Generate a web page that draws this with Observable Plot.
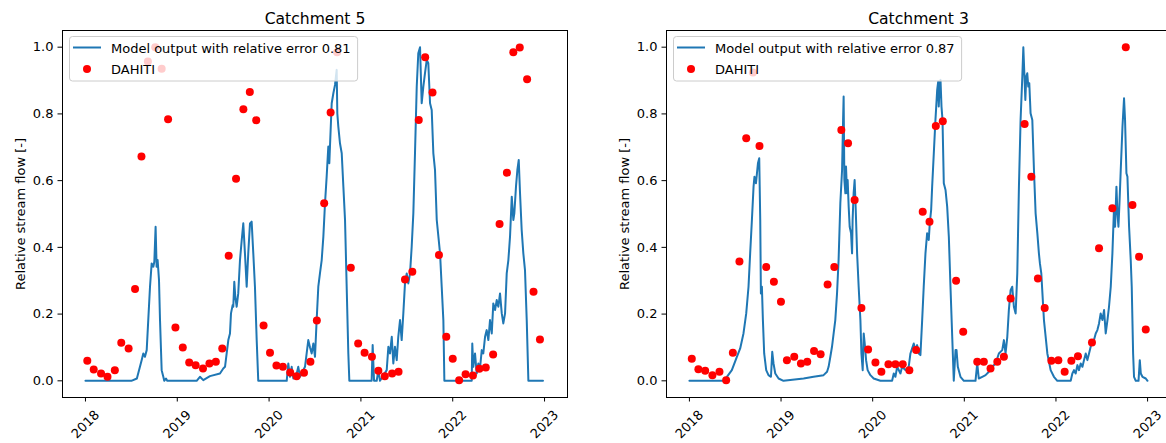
<!DOCTYPE html>
<html>
<head>
<meta charset="utf-8">
<script src="https://cdn.jsdelivr.net/npm/d3@7"></script>
<script src="https://cdn.jsdelivr.net/npm/@observablehq/plot@0.6"></script>
<style>
  html, body { margin: 0; padding: 0; background: white; overflow: hidden; }
  #wrap { display: flex; width: 1166px; height: 443px; overflow: hidden; }
  #wrap > div { flex: none; }
  svg { max-width: none !important; }
</style>
</head>
<body>
<div id="wrap"><div id="p1"></div><div id="p2"></div></div>
<script>
// ---- data (decimal year, relative stream flow) ----
const xTickYears = [2018, 2019, 2020, 2021, 2022, 2023];
const yTickValues = [0, 0.2, 0.4, 0.6, 0.8, 1.0];
const yLabel = "Relative stream flow [-]";
const seriesLabel = "Model output with relative error";
const obsLabel = "DAHITI";

const catchment5Title = "Catchment 5";
const catchment5Error = "0.81";
const catchment5Dahiti = [
  [2018.02,0.060],[2018.09,0.034],[2018.17,0.022],[2018.24,0.012],[2018.32,0.032],[2018.39,0.114],
  [2018.47,0.097],[2018.54,0.275],[2018.61,0.672],[2018.68,0.957],[2018.76,1.000],[2018.83,0.935],
  [2018.90,0.784],[2018.98,0.160],[2019.06,0.100],[2019.13,0.055],[2019.20,0.047],[2019.28,0.037],
  [2019.35,0.052],[2019.42,0.057],[2019.49,0.097],[2019.56,0.375],[2019.64,0.606],[2019.72,0.814],
  [2019.79,0.866],[2019.86,0.781],[2019.94,0.166],[2020.01,0.084],[2020.08,0.046],[2020.15,0.042],
  [2020.23,0.025],[2020.30,0.014],[2020.38,0.024],[2020.45,0.057],[2020.52,0.181],[2020.60,0.532],
  [2020.67,0.804],[2020.74,0.985],[2020.89,0.339],[2020.97,0.112],[2021.04,0.084],[2021.12,0.072],
  [2021.19,0.030],[2021.26,0.014],[2021.34,0.022],[2021.41,0.027],[2021.48,0.304],[2021.56,0.327],
  [2021.63,0.782],[2021.70,0.970],[2021.78,0.864],[2021.85,0.377],[2021.93,0.132],[2022.00,0.066],
  [2022.07,0.002],[2022.14,0.020],[2022.22,0.016],[2022.29,0.036],[2022.36,0.040],[2022.44,0.079],
  [2022.51,0.470],[2022.59,0.624],[2022.66,0.985],[2022.73,0.999],[2022.81,0.904],[2022.88,0.267],
  [2022.95,0.124]
];
const catchment5Model = [
  [2018.00,0],[2018.50,0],[2018.56,0.007],[2018.612,0.062],[2018.630,0.082],[2018.648,0.072],[2018.667,0.092],
  [2018.684,0.182],[2018.703,0.282],[2018.721,0.352],[2018.739,0.342],[2018.750,0.357],[2018.764,0.462],
  [2018.775,0.342],[2018.786,0.362],[2018.801,0.302],[2018.812,0.182],[2018.830,0.032],[2018.848,0.012],
  [2018.858,0],[2018.877,0.007],[2018.891,0],[2019.211,0],[2019.247,0.012],[2019.283,0.002],[2019.356,0.014],
  [2019.465,0.022],[2019.501,0.037],[2019.520,0.042],[2019.538,0.082],[2019.556,0.122],[2019.574,0.142],
  [2019.585,0.202],[2019.603,0.227],[2019.610,0.222],[2019.621,0.297],[2019.632,0.252],[2019.647,0.222],
  [2019.664,0.262],[2019.683,0.362],[2019.702,0.422],[2019.719,0.472],[2019.737,0.382],[2019.756,0.282],
  [2019.773,0.382],[2019.792,0.472],[2019.810,0.477],[2019.828,0.382],[2019.846,0.282],[2019.865,0.122],
  [2019.882,0],[2020.192,0],[2020.209,0.052],[2020.228,0.012],[2020.246,0.042],[2020.264,0.007],
  [2020.301,0.022],[2020.318,0.042],[2020.337,0.012],[2020.391,0.042],[2020.427,0.122],[2020.446,0.100],
  [2020.464,0.082],[2020.482,0.112],[2020.500,0.072],[2020.518,0.182],[2020.536,0.282],[2020.554,0.322],
  [2020.573,0.362],[2020.591,0.432],[2020.609,0.532],[2020.627,0.612],[2020.645,0.702],[2020.656,0.652],
  [2020.663,0.702],[2020.682,0.832],[2020.700,0.862],[2020.718,0.887],[2020.736,0.932],[2020.743,0.802],
  [2020.754,0.762],[2020.772,0.712],[2020.791,0.682],[2020.809,0.582],[2020.827,0.482],[2020.845,0.282],
  [2020.863,0.082],[2020.874,0],[2021.117,0],[2021.128,0.107],[2021.143,0],[2021.172,0],[2021.190,0.032],
  [2021.208,0],[2021.281,0.032],[2021.299,0.102],[2021.317,0.082],[2021.336,0.132],[2021.353,0.052],
  [2021.371,0.102],[2021.390,0.062],[2021.407,0.132],[2021.426,0.182],[2021.444,0.122],[2021.462,0.202],
  [2021.480,0.292],[2021.499,0.322],[2021.516,0.292],[2021.535,0.322],[2021.553,0.402],[2021.571,0.502],
  [2021.589,0.682],[2021.608,0.882],[2021.625,0.982],[2021.644,1.000],[2021.662,0.832],[2021.680,0.882],
  [2021.698,0.922],[2021.717,0.962],[2021.734,0.952],[2021.753,0.832],[2021.771,0.812],[2021.789,0.682],
  [2021.807,0.632],[2021.826,0.482],[2021.862,0.382],[2021.880,0.282],[2021.898,0.182],[2021.909,0],
  [2022.207,0],[2022.213,0.112],[2022.224,0.042],[2022.243,0.082],[2022.261,0.022],[2022.279,0.052],
  [2022.297,0.037],[2022.316,0.092],[2022.333,0.082],[2022.352,0.132],[2022.370,0.152],[2022.388,0.122],
  [2022.406,0.182],[2022.425,0.142],[2022.442,0.232],[2022.461,0.212],[2022.479,0.242],[2022.497,0.222],
  [2022.515,0.262],[2022.534,0.202],[2022.551,0.172],[2022.570,0.202],[2022.588,0.322],[2022.606,0.362],
  [2022.624,0.432],[2022.643,0.552],[2022.660,0.482],[2022.671,0.502],[2022.689,0.582],[2022.704,0.632],
  [2022.719,0.662],[2022.733,0.562],[2022.751,0.452],[2022.769,0.382],[2022.787,0.332],[2022.806,0.182],
  [2022.824,0],[2022.983,0]
];

const catchment3Title = "Catchment 3";
const catchment3Error = "0.87";
const catchment3Dahiti = [
  [2018.026,0.066],[2018.098,0.035],[2018.172,0.030],[2018.251,0.017],[2018.328,0.027],[2018.401,0.002],
  [2018.474,0.084],[2018.546,0.358],[2018.620,0.727],[2018.693,0.924],[2018.765,0.704],[2018.838,0.341],
  [2018.922,0.297],[2018.999,0.237],[2019.064,0.062],[2019.144,0.072],[2019.217,0.052],[2019.286,0.057],
  [2019.360,0.089],[2019.432,0.080],[2019.508,0.289],[2019.581,0.341],[2019.658,0.752],[2019.731,0.712],
  [2019.803,0.542],[2019.877,0.218],[2019.950,0.094],[2020.030,0.055],[2020.095,0.027],[2020.172,0.050],
  [2020.248,0.050],[2020.328,0.050],[2020.400,0.032],[2020.474,0.092],[2020.546,0.507],[2020.620,0.477],
  [2020.689,0.764],[2020.765,0.778],[2020.910,0.300],[2020.988,0.147],[2021.141,0.057],[2021.213,0.057],
  [2021.286,0.037],[2021.360,0.057],[2021.432,0.072],[2021.505,0.247],[2021.658,0.770],[2021.731,0.612],
  [2021.803,0.307],[2021.877,0.218],[2021.950,0.060],[2022.026,0.062],[2022.095,0.027],[2022.168,0.060],
  [2022.240,0.074],[2022.393,0.115],[2022.470,0.397],[2022.616,0.517],[2022.762,1.000],[2022.835,0.527],
  [2022.907,0.372],[2022.980,0.154]
];
const catchment3Model = [
  [2018.0,0],[2018.372,0],[2018.409,0.012],[2018.463,0.032],[2018.518,0.072],[2018.554,0.097],[2018.590,0.142],
  [2018.620,0.202],[2018.645,0.282],[2018.663,0.382],[2018.682,0.482],[2018.700,0.582],[2018.710,0.612],
  [2018.726,0.592],[2018.737,0.622],[2018.748,0.652],[2018.762,0.667],[2018.773,0.482],[2018.780,0.262],
  [2018.791,0.282],[2018.802,0.182],[2018.816,0.082],[2018.838,0.032],[2018.863,0.017],[2018.890,0.012],
  [2018.904,0.087],[2018.918,0.052],[2018.937,0.022],[2018.973,0.007],[2019.027,0],[2019.246,0.007],
  [2019.355,0.012],[2019.464,0.017],[2019.502,0.027],[2019.519,0.042],[2019.538,0.072],[2019.556,0.102],
  [2019.574,0.142],[2019.592,0.182],[2019.611,0.262],[2019.628,0.362],[2019.647,0.532],[2019.666,0.632],
  [2019.677,0.782],[2019.683,0.852],[2019.691,0.602],[2019.702,0.562],[2019.709,0.642],[2019.720,0.562],
  [2019.727,0.602],[2019.738,0.522],[2019.749,0.462],[2019.764,0.442],[2019.775,0.382],[2019.781,0.482],
  [2019.792,0.562],[2019.803,0.602],[2019.814,0.522],[2019.830,0.382],[2019.847,0.282],[2019.866,0.182],
  [2019.877,0.082],[2019.891,0.032],[2019.902,0.142],[2019.913,0.112],[2019.928,0.062],[2019.945,0.032],
  [2019.975,0.017],[2020.011,0.007],[2020.084,0],[2020.212,0],[2020.230,0.022],[2020.248,0.012],
  [2020.267,0.042],[2020.303,0.022],[2020.321,0.042],[2020.357,0.032],[2020.393,0.042],[2020.412,0.082],
  [2020.448,0.112],[2020.467,0.092],[2020.485,0.107],[2020.503,0.082],[2020.521,0.077],[2020.540,0.182],
  [2020.557,0.282],[2020.576,0.382],[2020.594,0.442],[2020.612,0.422],[2020.623,0.472],[2020.638,0.512],
  [2020.649,0.582],[2020.667,0.682],[2020.685,0.782],[2020.704,0.872],[2020.715,0.897],[2020.721,0.822],
  [2020.732,0.892],[2020.740,0.902],[2020.751,0.822],[2020.762,0.782],[2020.776,0.592],[2020.795,0.572],
  [2020.813,0.522],[2020.831,0.432],[2020.849,0.282],[2020.868,0.132],[2020.885,0],[2020.904,0.092],
  [2020.915,0.092],[2020.929,0.042],[2020.958,0.012],[2020.995,0],[2021.122,0],[2021.141,0.052],
  [2021.158,0.007],[2021.196,0.012],[2021.232,0.017],[2021.268,0.027],[2021.305,0.042],[2021.341,0.052],
  [2021.377,0.082],[2021.414,0.092],[2021.432,0.122],[2021.450,0.082],[2021.469,0.132],[2021.486,0.212],
  [2021.505,0.272],[2021.523,0.282],[2021.541,0.222],[2021.560,0.202],[2021.578,0.322],[2021.596,0.582],
  [2021.614,0.782],[2021.633,0.912],[2021.644,1.000],[2021.655,0.922],[2021.666,0.842],[2021.676,0.912],
  [2021.687,0.922],[2021.698,0.882],[2021.709,0.892],[2021.723,0.802],[2021.742,0.782],[2021.760,0.632],
  [2021.778,0.502],[2021.797,0.442],[2021.814,0.382],[2021.825,0.352],[2021.840,0.322],[2021.869,0.182],
  [2021.906,0.082],[2021.942,0.032],[2021.978,0.012],[2022.015,0],[2022.161,0],[2022.179,0.022],
  [2022.197,0.032],[2022.215,0.022],[2022.234,0.047],[2022.251,0.032],[2022.270,0.052],[2022.289,0.042],
  [2022.306,0.062],[2022.325,0.082],[2022.343,0.062],[2022.361,0.082],[2022.379,0.102],[2022.398,0.122],
  [2022.415,0.122],[2022.434,0.142],[2022.452,0.152],[2022.470,0.172],[2022.488,0.202],[2022.507,0.182],
  [2022.525,0.212],[2022.543,0.142],[2022.562,0.182],[2022.579,0.222],[2022.598,0.282],[2022.616,0.382],
  [2022.634,0.522],[2022.645,0.462],[2022.660,0.582],[2022.671,0.502],[2022.682,0.462],[2022.693,0.532],
  [2022.707,0.632],[2022.726,0.762],[2022.743,0.847],[2022.754,0.782],[2022.769,0.622],[2022.780,0.612],
  [2022.798,0.462],[2022.816,0.362],[2022.827,0.282],[2022.842,0.082],[2022.852,0.012],[2022.871,0],
  [2022.901,0],[2022.915,0.062],[2022.926,0.022],[2022.944,0.012],[2022.980,0.007],[2022.999,0]
];

// ---- drawing ----
const FONT = "'DejaVu Sans', sans-serif";
const BLUE = "#1f77b4";

function panel({title, model, dahiti, err, width, marginLeft, marginRight}) {
  const marginTop = 30, marginBottom = 46, height = 443;
  const svg = Plot.plot({
    width, height, marginLeft, marginRight, marginTop, marginBottom,
    style: {fontFamily: FONT, fontSize: "13px", color: "black", background: "white", maxWidth: "none"},
    x: {type: "linear", domain: [2017.75, 2023.25], axis: null, label: null},
    y: {domain: [-0.05, 1.05], axis: null, label: null},
    marks: [
      Plot.line(model, {x: d => d[0], y: d => d[1], stroke: BLUE, strokeWidth: 2}),
      Plot.dot(dahiti, {x: d => d[0], y: d => d[1], r: 4, fill: "red"}),
      Plot.axisY({ticks: yTickValues, tickSize: 4.5, tickPadding: 4.5, tickFormat: d => d.toFixed(1), label: null, stroke: "black", fill: "black"}),
      Plot.axisX({ticks: xTickYears, tickSize: 4.5, tickFormat: () => "", label: null, stroke: "black"}),
      Plot.text(xTickYears, {x: d => d, text: d => String(d), frameAnchor: "bottom", dy: 27, rotate: -45,
        textAnchor: "middle", lineAnchor: "middle", fill: "black"}),
      Plot.frame({stroke: "black", strokeWidth: 1}),
      Plot.text([title], {text: d => d, frameAnchor: "top", dy: -7, lineAnchor: "bottom", fontSize: 15.6, fill: "black"}),
      Plot.text([yLabel], {text: d => d, frameAnchor: "left", dx: -42, rotate: -90, textAnchor: "middle", lineAnchor: "middle", fill: "black"})
    ]
  });
  // legend (upper left, matplotlib style)
  const g = d3.select(svg).append("g")
    .attr("transform", `translate(${marginLeft + 7},${marginTop + 6})`)
    .attr("font-family", FONT).attr("font-size", 13).attr("text-anchor", "start");
  const box = g.append("rect").attr("fill", "white").attr("fill-opacity", 0.8)
    .attr("stroke", "#cccccc").attr("rx", 3).attr("height", 44.5).attr("x", 0.5).attr("y", 0.5);
  g.append("line").attr("x1", 4).attr("x2", 32).attr("y1", 11.5).attr("y2", 11.5)
    .attr("stroke", BLUE).attr("stroke-width", 2);
  const t1 = g.append("text").attr("x", 42).attr("y", 16.5).attr("fill", "black")
    .attr("text-anchor", "start").text(`${seriesLabel} ${err}`);
  g.append("circle").attr("cx", 18).attr("cy", 33).attr("r", 4).attr("fill", "red");
  const t2 = g.append("text").attr("x", 42).attr("y", 38).attr("fill", "black")
    .attr("text-anchor", "start").text(obsLabel);
  document.body.appendChild(svg); // ensure measurable
  const w = Math.max(t1.node().getComputedTextLength(), t2.node().getComputedTextLength());
  box.attr("width", 42 + w + 6.5);
  return svg;
}

const s1 = panel({title: catchment5Title, model: catchment5Model, dahiti: catchment5Dahiti, err: catchment5Error,
  width: 583, marginLeft: 62, marginRight: 16});
document.getElementById("p1").appendChild(s1);
const s2 = panel({title: catchment3Title, model: catchment3Model, dahiti: catchment3Dahiti, err: catchment3Error,
  width: 587, marginLeft: 83, marginRight: 0});
document.getElementById("p2").appendChild(s2);
</script>
</body>
</html>
